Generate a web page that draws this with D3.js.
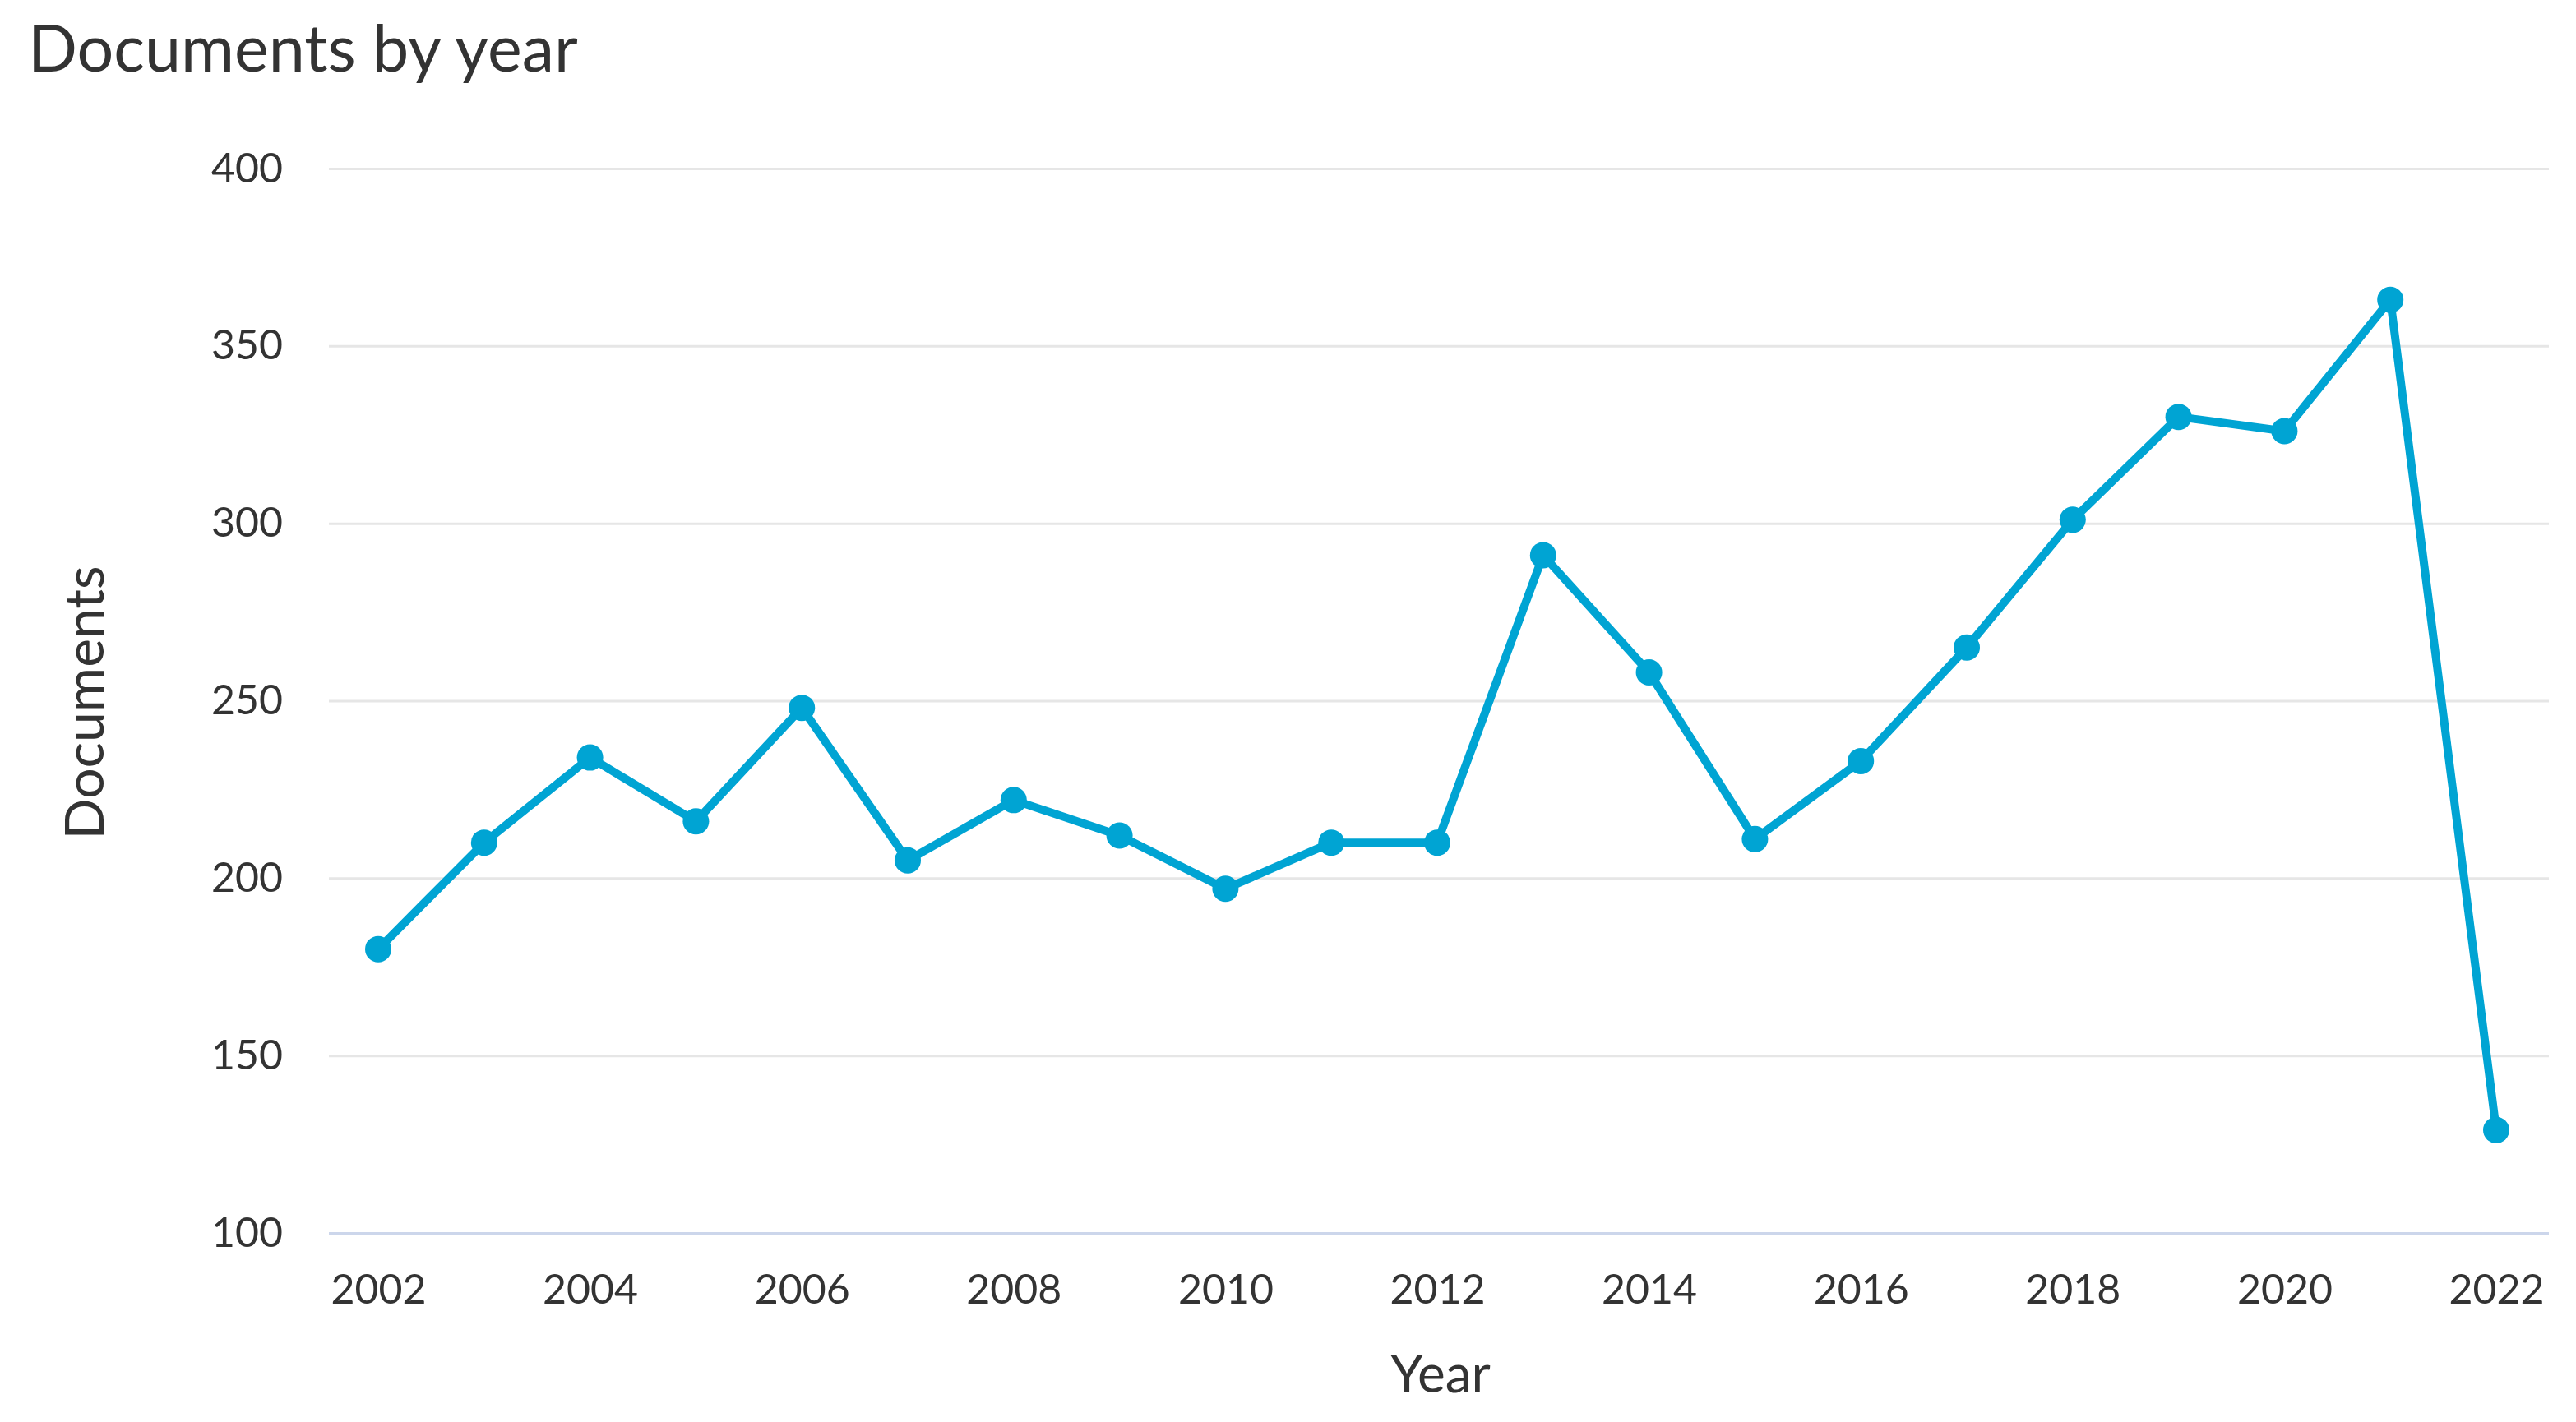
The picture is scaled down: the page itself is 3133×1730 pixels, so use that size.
<!DOCTYPE html>
<html>
<head>
<meta charset="utf-8">
<script src="https://cdn.jsdelivr.net/npm/d3@7"></script>
<style>
  html, body { margin: 0; padding: 0; background: #ffffff; }
  svg { display: block; }
  text { font-family: Lato, "Open Sans", sans-serif; }
</style>
</head>
<body>
<script>
const years = [2002, 2003, 2004, 2005, 2006, 2007, 2008, 2009, 2010, 2011, 2012,
               2013, 2014, 2015, 2016, 2017, 2018, 2019, 2020, 2021, 2022];
const documents = [180, 210, 234, 216, 248, 205, 222, 212, 197, 210, 210,
                   291, 258, 211, 233, 265, 301, 330, 326, 363, 129];
const yTicks = [100, 150, 200, 250, 300, 350, 400];
const xTicks = [2002, 2004, 2006, 2008, 2010, 2012, 2014, 2016, 2018, 2020, 2022];

const W = 3133, H = 1730;
const plotLeft = 400, plotRight = 3100, plotTop = 205, plotBottom = 1500;

const svg = d3.select("body").append("svg").attr("width", W).attr("height", H);

const x = d3.scaleLinear().domain([2002, 2022]).range([460, 3036]);
const y = d3.scaleLinear().domain([100, 400]).range([plotBottom, plotTop]);

// title
svg.append("text").attr("x", 34).attr("y", 87)
  .attr("font-size", 79).attr("fill", "#333333").text("Documents by year");

// y grid + labels
const yAxis = svg.append("g").attr("transform", `translate(${plotLeft},0)`)
  .call(d3.axisLeft(y).tickValues(yTicks).tickSize(-(plotRight - plotLeft)).tickPadding(56).tickFormat(d3.format("d")));
yAxis.select(".domain").remove();
yAxis.selectAll(".tick line").attr("stroke", "#e6e6e6").attr("stroke-width", 3);
yAxis.selectAll(".tick").filter(d => d === 100).select("line").attr("stroke", "#ccd6eb");
yAxis.selectAll(".tick text").attr("font-size", 50).attr("fill", "#333333")
  .attr("font-family", "Lato, 'Open Sans', sans-serif");

// x labels
const xAxis = svg.append("g").attr("transform", `translate(0,${plotBottom})`)
  .call(d3.axisBottom(x).tickValues(xTicks).tickSize(0).tickPadding(50).tickFormat(d3.format("d")));
xAxis.select(".domain").remove();
xAxis.selectAll(".tick text").attr("font-size", 50).attr("fill", "#333333")
  .attr("font-family", "Lato, 'Open Sans', sans-serif");

// axis titles
svg.append("text").attr("x", 1752).attr("y", 1694).attr("text-anchor", "middle")
  .attr("font-size", 64).attr("fill", "#333333").text("Year");
svg.append("text").attr("transform", "translate(126,855) rotate(-90)").attr("text-anchor", "middle")
  .attr("font-size", 66).attr("fill", "#333333").text("Documents");

// line
const data = years.map((yr, i) => ({ yr, v: documents[i] }));
svg.append("path").datum(data)
  .attr("fill", "none").attr("stroke", "#00a4d3").attr("stroke-width", 10)
  .attr("stroke-linejoin", "round")
  .attr("d", d3.line().x(d => x(d.yr)).y(d => y(d.v)));

svg.selectAll("circle.pt").data(data).join("circle")
  .attr("class", "pt").attr("cx", d => x(d.yr)).attr("cy", d => y(d.v))
  .attr("r", 16).attr("fill", "#00a4d3");
</script>
</body>
</html>
